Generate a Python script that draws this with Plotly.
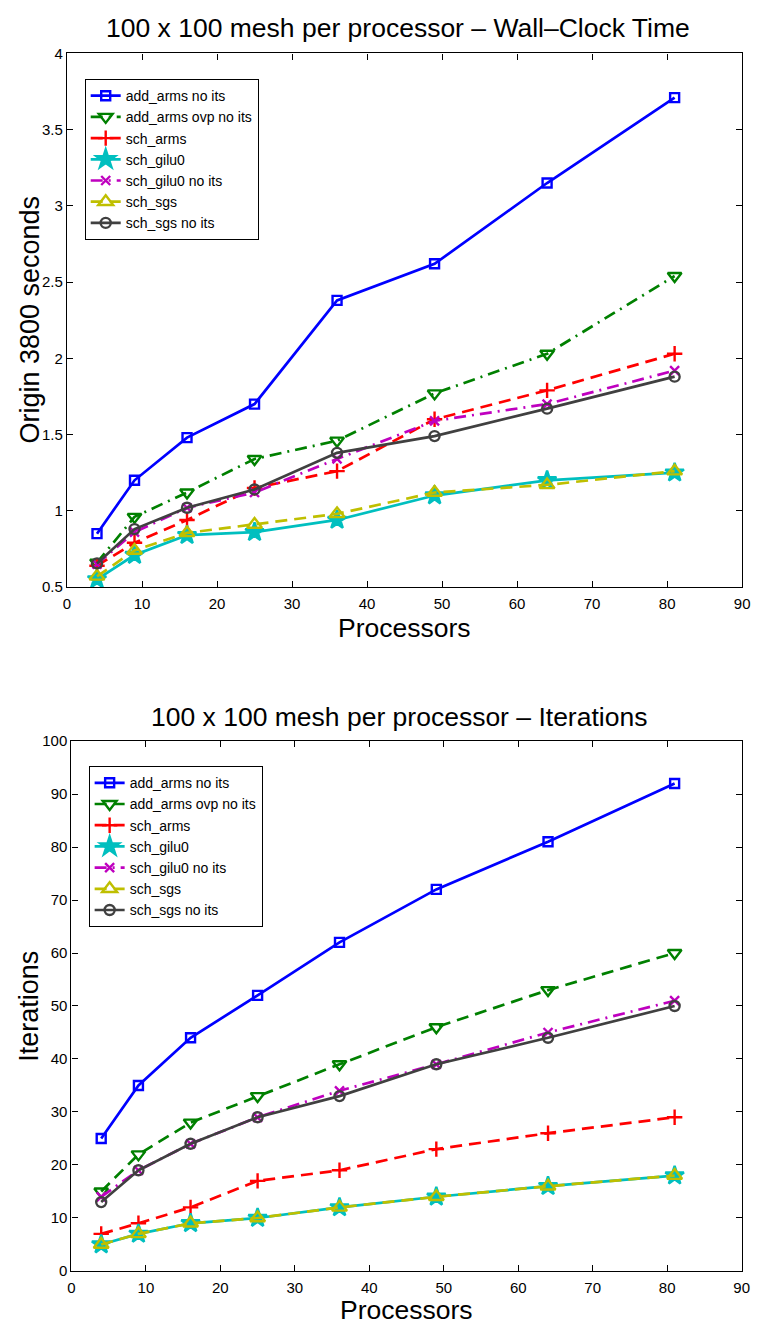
import plotly.graph_objects as go

W, H = 759, 1331

processors = [4, 9, 16, 25, 36, 49, 64, 81]
series_names = ["add_arms no its", "add_arms ovp no its", "sch_arms", "sch_gilu0",
                "sch_gilu0 no its", "sch_sgs", "sch_sgs no its"]

# Wall-clock time (seconds)
time_add_arms = [0.85, 1.20, 1.48, 1.70, 2.38, 2.62, 3.15, 3.71]
time_add_arms_ovp = [0.66, 0.96, 1.12, 1.34, 1.46, 1.77, 2.03, 2.54]
time_sch_arms = [0.64, 0.79, 0.94, 1.15, 1.26, 1.60, 1.79, 2.03]
time_sch_gilu0 = [0.55, 0.71, 0.84, 0.86, 0.94, 1.10, 1.20, 1.25]
time_sch_gilu0_noits = [0.65, 0.86, 1.02, 1.12, 1.34, 1.59, 1.70, 1.92]
time_sch_sgs = [0.57, 0.74, 0.855, 0.91, 0.98, 1.12, 1.17, 1.26]
time_sch_sgs_noits = [0.655, 0.88, 1.02, 1.14, 1.38, 1.49, 1.67, 1.88]

# Iterations
it_add_arms = [25, 35, 44, 52, 62, 72, 81, 92]
it_add_arms_ovp = [15, 22, 28, 33, 39, 46, 53, 60]
it_sch_arms = [7, 9, 12, 17, 19, 23, 26, 29]
it_sch_gilu0 = [5, 7, 9, 10, 12, 14, 16, 18]
it_sch_gilu0_noits = [14, 19, 24, 29, 34, 39, 45, 51]
it_sch_sgs = [5, 7, 9, 10, 12, 14, 16, 18]
it_sch_sgs_noits = [13, 19, 24, 29, 33, 39, 44, 50]

time_series = [time_add_arms, time_add_arms_ovp, time_sch_arms, time_sch_gilu0,
               time_sch_gilu0_noits, time_sch_sgs, time_sch_sgs_noits]
iter_series = [it_add_arms, it_add_arms_ovp, it_sch_arms, it_sch_gilu0,
               it_sch_gilu0_noits, it_sch_sgs, it_sch_sgs_noits]

DASH = "12px,7px"
DASHDOT = "12px,6px,2px,6px"
styles = [
    dict(color="#0000FF", symbol="square-open", size=9, dash_top="solid", dash_bot="solid"),
    dict(color="#008000", symbol="triangle-down-open", size=12, dash_top=DASHDOT, dash_bot=DASH),
    dict(color="#FF0000", symbol="cross-thin-open", size=11, dash_top=DASH, dash_bot=DASH),
    dict(color="#00BFBF", symbol="star", size=14, dash_top="solid", dash_bot="solid"),
    dict(color="#BF00BF", symbol="x-thin-open", size=9, dash_top=DASHDOT, dash_bot=DASHDOT),
    dict(color="#BFBF00", symbol="triangle-up-open", size=13, dash_top=DASH, dash_bot=DASH),
    dict(color="#404040", symbol="circle-open", size=10, dash_top="solid", dash_bot="solid"),
]

FONT = "Liberation Sans, Arial, Helvetica, sans-serif"
LW = 2.7

fig = go.Figure()

for name, ys, st in zip(series_names, time_series, styles):
    fig.add_trace(go.Scatter(
        x=processors, y=ys, name=name, mode="lines+markers",
        line=dict(color=st["color"], width=LW, dash=st["dash_top"]),
        marker=dict(symbol=st["symbol"], size=st["size"], color=st["color"],
                    line=dict(color=st["color"], width=2.4)),
        xaxis="x", yaxis="y", legend="legend",
    ))

for name, ys, st in zip(series_names, iter_series, styles):
    fig.add_trace(go.Scatter(
        x=processors, y=ys, name=name, mode="lines+markers",
        line=dict(color=st["color"], width=LW, dash=st["dash_bot"]),
        marker=dict(symbol=st["symbol"], size=st["size"], color=st["color"],
                    line=dict(color=st["color"], width=2.4)),
        xaxis="x2", yaxis="y2", legend="legend2",
    ))

def px_x(p):
    return p / W

def px_y(p):
    return 1 - p / H

axis_common = dict(
    showgrid=False, zeroline=False, showline=True, linecolor="black", linewidth=1.2,
    mirror="ticks", ticks="inside", ticklen=6, tickcolor="black", tickwidth=1,
    tickfont=dict(family=FONT, size=15, color="black"),
)

legend_common = dict(
    bgcolor="white", bordercolor="black", borderwidth=1,
    font=dict(family=FONT, size=14, color="black"),
    xanchor="left", yanchor="top", itemwidth=30, tracegroupgap=0,
    xref="paper", yref="paper",
)

fig.update_layout(
    width=W, height=H,
    margin=dict(l=0, r=0, t=0, b=0),
    paper_bgcolor="white", plot_bgcolor="white",
    font=dict(family=FONT, color="black"),
    xaxis=dict(domain=[px_x(64), px_x(750)], range=[0, 90], dtick=10, tick0=0,
               anchor="y", ticklabelstandoff=3, **axis_common),
    yaxis=dict(domain=[px_y(585.5), px_y(45)], range=[0.5, 4], dtick=0.5, tick0=0.5,
               anchor="x", **axis_common),
    xaxis2=dict(domain=[px_x(68.5), px_x(749.5)], range=[0, 90], dtick=10, tick0=0,
                anchor="y2", ticklabelstandoff=3, **axis_common),
    yaxis2=dict(domain=[px_y(1278.3), px_y(741.5)], range=[0, 100], dtick=10, tick0=0,
                anchor="x2", **axis_common),
    legend=dict(x=px_x(82), y=px_y(71), **legend_common),
    legend2=dict(x=px_x(86), y=px_y(767), **legend_common),
    annotations=[
        dict(text="100 x 100 mesh per processor \u2013 Wall\u2013Clock Time",
             x=px_x(400), y=px_y(19), xref="paper", yref="paper",
             showarrow=False, font=dict(family=FONT, size=26.5, color="black"),
             xanchor="center", yanchor="middle"),
        dict(text="Processors", x=px_x(407), y=px_y(627), xref="paper", yref="paper",
             showarrow=False, font=dict(family=FONT, size=26.5, color="black"),
             xanchor="center", yanchor="middle"),
        dict(text="Origin 3800 seconds", x=px_x(26), y=px_y(315), xref="paper", yref="paper",
             showarrow=False, textangle=-90, font=dict(family=FONT, size=27, color="black"),
             xanchor="center", yanchor="middle"),
        dict(text="100 x 100 mesh per processor \u2013 Iterations",
             x=px_x(401), y=px_y(717), xref="paper", yref="paper",
             showarrow=False, font=dict(family=FONT, size=26.5, color="black"),
             xanchor="center", yanchor="middle"),
        dict(text="Processors", x=px_x(409), y=px_y(1318), xref="paper", yref="paper",
             showarrow=False, font=dict(family=FONT, size=26.5, color="black"),
             xanchor="center", yanchor="middle"),
        dict(text="Iterations", x=px_x(26), y=px_y(1010), xref="paper", yref="paper",
             showarrow=False, textangle=-90, font=dict(family=FONT, size=27, color="black"),
             xanchor="center", yanchor="middle"),
    ],
)

fig.write_html("out.html")
